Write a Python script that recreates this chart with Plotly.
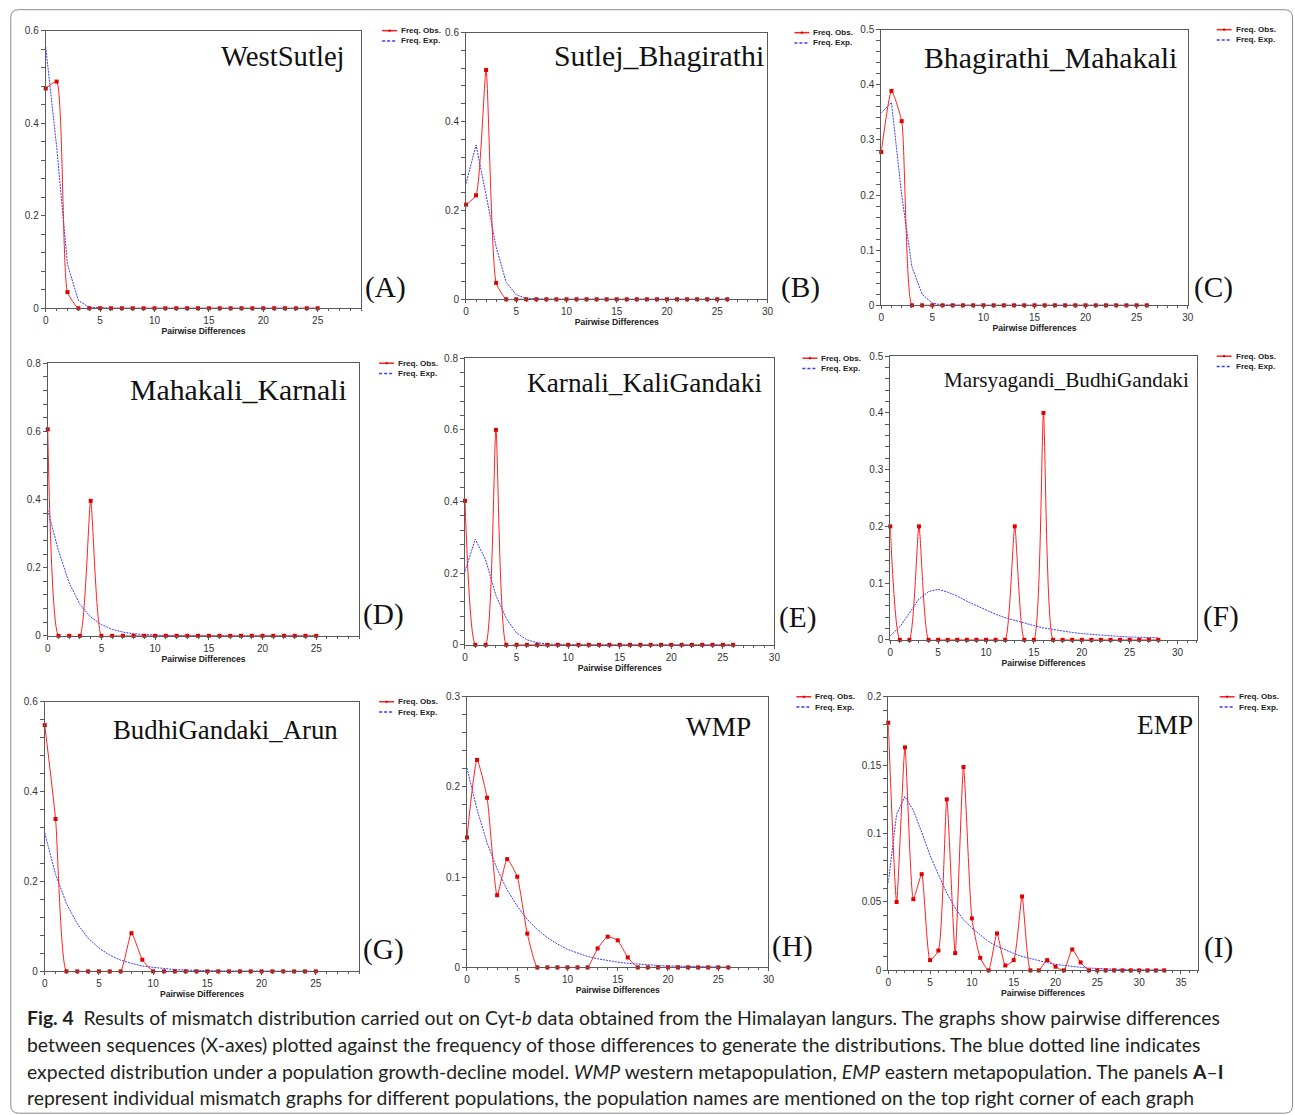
import plotly.graph_objects as go

W, H = 1295, 1115

# ---------------- data ----------------
# Panel A: WestSutlej
A_x = list(range(26))
A_obs = [0.475, 0.49, 0.035, 0, 0, 0, 0, 0, 0, 0, 0, 0, 0, 0, 0, 0, 0, 0, 0, 0, 0, 0, 0, 0, 0, 0]
A_exp = [0.565, 0.35, 0.095, 0.017, 0.002, 0.0003, 0, 0, 0, 0, 0, 0, 0, 0, 0, 0, 0, 0, 0, 0, 0, 0, 0, 0, 0, 0]

# Panel B: Sutlej_Bhagirathi
B_x = list(range(27))
B_obs = [0.213, 0.234, 0.516, 0.037, 0, 0, 0, 0, 0, 0, 0, 0, 0, 0, 0, 0, 0, 0, 0, 0, 0, 0, 0, 0, 0, 0, 0]
B_exp = [0.26, 0.347, 0.235, 0.118, 0.038, 0.01, 0.002, 0.0003, 0, 0, 0, 0, 0, 0, 0, 0, 0, 0, 0, 0, 0, 0, 0, 0, 0, 0, 0]

# Panel C: Bhagirathi_Mahakali
C_x = list(range(27))
C_obs = [0.278, 0.389, 0.334, 0, 0, 0, 0, 0, 0, 0, 0, 0, 0, 0, 0, 0, 0, 0, 0, 0, 0, 0, 0, 0, 0, 0, 0]
C_exp = [0.349, 0.368, 0.2, 0.07, 0.02, 0.004, 0.0005, 0, 0, 0, 0, 0, 0, 0, 0, 0, 0, 0, 0, 0, 0, 0, 0, 0, 0, 0, 0]

# Panel D: Mahakali_Karnali
D_x = list(range(26))
D_obs = [0.606, 0, 0, 0, 0.396, 0, 0, 0, 0, 0, 0, 0, 0, 0, 0, 0, 0, 0, 0, 0, 0, 0, 0, 0, 0, 0]
D_exp = [0.369, 0.25, 0.155, 0.092, 0.055, 0.033, 0.019, 0.011, 0.006, 0.0035, 0.002, 0.001, 0.0006,
         0.0003, 0.0002, 0.0001, 0, 0, 0, 0, 0, 0, 0, 0, 0, 0]

# Panel E: Karnali_KaliGandaki
E_x = list(range(27))
E_obs = [0.402, 0, 0, 0.6, 0, 0, 0, 0, 0, 0, 0, 0, 0, 0, 0, 0, 0, 0, 0, 0, 0, 0, 0, 0, 0, 0, 0]
E_exp = [0.205, 0.295, 0.237, 0.138, 0.074, 0.033, 0.014, 0.006, 0.002, 0.001, 0.0004, 0.0001, 0,
         0, 0, 0, 0, 0, 0, 0, 0, 0, 0, 0, 0, 0, 0]

# Panel F: Marsyagandi_BudhiGandaki
F_x = list(range(29))
F_obs = [0.2, 0, 0, 0.2, 0, 0, 0, 0, 0, 0, 0, 0, 0, 0.2, 0, 0, 0.4, 0, 0, 0, 0, 0, 0, 0, 0, 0, 0, 0, 0]
F_exp = [0.007, 0.023, 0.047, 0.072, 0.085, 0.089, 0.084, 0.077, 0.068, 0.06, 0.052, 0.045, 0.039,
         0.034, 0.029, 0.025, 0.021, 0.018, 0.015, 0.013, 0.011, 0.0095, 0.008, 0.007, 0.006, 0.005,
         0.0045, 0.004, 0.0035]

# Panel G: BudhiGandaki_Arun
G_x = list(range(26))
G_obs = [0.548, 0.339, 0, 0, 0, 0, 0, 0, 0.085, 0.026, 0, 0, 0, 0, 0, 0, 0, 0, 0, 0, 0, 0, 0, 0, 0, 0]
G_exp = [0.308, 0.216, 0.151, 0.106, 0.074, 0.052, 0.036, 0.025, 0.018, 0.012, 0.009, 0.006, 0.004,
         0.003, 0.002, 0.0015, 0.001, 0.0007, 0.0005, 0.0003, 0.0002, 0.0001, 0, 0, 0, 0]

# Panel H: WMP
H_x = list(range(27))
H_obs = [0.144, 0.23, 0.188, 0.08, 0.12, 0.1005, 0.0375, 0, 0, 0, 0, 0, 0, 0.021, 0.034, 0.03, 0.011,
         0, 0, 0, 0, 0, 0, 0, 0, 0, 0]
H_exp = [0.221, 0.175, 0.138, 0.109, 0.086, 0.068, 0.053, 0.042, 0.033, 0.026, 0.02, 0.016, 0.012,
         0.0095, 0.0075, 0.0058, 0.0045, 0.0035, 0.0027, 0.0021, 0.0016, 0.0012, 0.0009, 0.0007,
         0.0005, 0.0004, 0.0003]

# Panel I: EMP
I_x = list(range(34))
I_obs = [0.181, 0.05, 0.163, 0.052, 0.0703, 0.0075, 0.0145, 0.125, 0.0126, 0.1486, 0.038, 0.0092, 0,
         0.027, 0.0036, 0.0075, 0.054, 0, 0, 0.0075, 0.0027, 0, 0.0153, 0.0058, 0, 0, 0, 0, 0, 0, 0,
         0, 0, 0]
I_exp = [0.064, 0.114, 0.127, 0.117, 0.101, 0.084, 0.07, 0.0565, 0.0456, 0.037, 0.031, 0.0257, 0.021,
         0.0177, 0.0148, 0.0124, 0.0102, 0.0085, 0.0068, 0.0056, 0.0044, 0.0035, 0.0028, 0.0022,
         0.0017, 0.0013, 0.001, 0.0008, 0.0006, 0.0005, 0.0004, 0.0003, 0.0002, 0.0002]

titles = ["WestSutlej", "Sutlej_Bhagirathi", "Bhagirathi_Mahakali", "Mahakali_Karnali",
          "Karnali_KaliGandaki", "Marsyagandi_BudhiGandaki", "BudhiGandaki_Arun", "WMP", "EMP"]
letters = ["(A)", "(B)", "(C)", "(D)", "(E)", "(F)", "(G)", "(H)", "(I)"]
xs = [A_x, B_x, C_x, D_x, E_x, F_x, G_x, H_x, I_x]
obs = [A_obs, B_obs, C_obs, D_obs, E_obs, F_obs, G_obs, H_obs, I_obs]
exps = [A_exp, B_exp, C_exp, D_exp, E_exp, F_exp, G_exp, H_exp, I_exp]
x_max = [29, 30, 30, 29, 30, 32, 29, 30, 37]
y_max = [0.6, 0.6, 0.5, 0.8, 0.8, 0.5, 0.6, 0.3, 0.2]
y_major = [0.2, 0.2, 0.1, 0.2, 0.2, 0.1, 0.2, 0.1, 0.05]
y_minor = [0.04, 0.04, 0.02, 0.04, 0.04, 0.02, 0.04, 0.02, 0.01]

# ---------------- layout (pixel geometry, target picture coordinates) ----------------
rects = [(45, 361, 30, 308), (466, 768, 32, 299), (882, 1189, 29, 305),
         (47, 359, 363, 636), (465, 775, 358, 645), (891, 1198, 356, 640),
         (44, 359, 702, 972), (467, 769, 697, 968), (889, 1199, 697, 971)]
legend_dx = [21, 27, 29, 20, 28, 20, 20, 28, 22]
title_pos = [(345, 55, 28.7), (765, 55, 29.8), (1178, 57, 29.8), (347, 389, 29.8),
             (763, 383, 27.3), (1190, 380, 21.2), (338, 730, 26.8), (752, 727, 27.3), (1194, 725, 27.3)]
letter_pos = [(365, 287), (782, 287), (1195, 287), (363, 615), (780, 618), (1204, 617),
              (363, 950), (773, 947), (1205, 948)]

# small correction for how the page is photographed (measured offset/scale)
SX, OX, SY, OY = 0.9948, 2.2, 0.9906, 5.3


def px(x):
    return ((x - OX) / SX) / W


def py(y):
    return 1 - ((y - OY) / SY) / H


RED = "#ff1f1f"
BLUE = "#3a3aff"
AXC = "#5a5a5a"
TXT = "#333333"

fig = go.Figure()
layout = dict(width=W, height=H, margin=dict(l=0, r=0, t=0, b=0),
              paper_bgcolor="white", plot_bgcolor="white", showlegend=False)
annotations = []
shapes = []

for i in range(9):
    n = "" if i == 0 else str(i + 1)
    l, r, t, b = rects[i]
    fig.add_trace(go.Scatter(x=xs[i], y=exps[i], xaxis="x" + n, yaxis="y" + n, mode="lines",
                             line=dict(color=BLUE, width=1, dash="2px,1px"),
                             name="Freq. Exp.", cliponaxis=False, hoverinfo="x+y"))
    fig.add_trace(go.Scatter(x=xs[i], y=obs[i], xaxis="x" + n, yaxis="y" + n, mode="lines+markers",
                             line=dict(color=RED, width=1, shape="spline", smoothing=0.5),
                             marker=dict(symbol="square", size=4, color="#e00000"),
                             name="Freq. Obs.", cliponaxis=False, hoverinfo="x+y"))
    layout["xaxis" + n] = dict(
        domain=[px(l), px(r)], range=[0, x_max[i]], anchor="y" + n,
        showgrid=False, zeroline=False, showline=True, mirror=True, linecolor=AXC, linewidth=1,
        ticks="outside", ticklen=3, tickcolor=AXC, dtick=5, tick0=0,
        minor=dict(dtick=1, ticks="outside", ticklen=2, tickcolor=AXC),
        tickfont=dict(family="Liberation Sans, Arial", size=10, color=TXT),
        title=dict(text="<b>Pairwise Differences</b>", standoff=2,
                   font=dict(family="Liberation Sans, Arial", size=8.6, color="#222")))
    layout["yaxis" + n] = dict(
        domain=[py(b), py(t)], range=[0, y_max[i]], anchor="x" + n,
        showgrid=False, zeroline=False, showline=True, mirror=True, linecolor=AXC, linewidth=1,
        ticks="outside", ticklen=4, tickcolor=AXC, dtick=y_major[i], tick0=0,
        minor=dict(dtick=y_minor[i], ticks="outside", ticklen=4, tickcolor=AXC),
        tickfont=dict(family="Liberation Sans, Arial", size=10, color=TXT))

    # title and panel letter
    tx, ty, ts = title_pos[i]
    annotations.append(dict(text=titles[i], x=px(tx), y=py(ty), xref="paper", yref="paper",
                            xanchor="right", yanchor="middle", showarrow=False, borderpad=0, borderwidth=0,
                            font=dict(family="Liberation Serif, Times New Roman", size=ts, color="#111")))
    lx, ly = letter_pos[i]
    annotations.append(dict(text=letters[i], x=px(lx), y=py(ly), xref="paper", yref="paper",
                            xanchor="left", yanchor="middle", showarrow=False, borderpad=0, borderwidth=0,
                            font=dict(family="Liberation Serif, Times New Roman", size=29.3, color="#111")))
    # legend
    gx = r + legend_dx[i]
    for k, (lab, col, dash) in enumerate([("Freq. Obs.", RED, "solid"), ("Freq. Exp.", BLUE, "3px,2px")]):
        yy = t + k * 10.3
        shapes.append(dict(type="line", xref="paper", yref="paper", x0=px(gx), x1=px(gx + 15),
                           y0=py(yy), y1=py(yy), line=dict(color=col, width=1.5, dash=dash)))
        if k == 0:
            shapes.append(dict(type="rect", xref="paper", yref="paper", x0=px(gx + 6.5), x1=px(gx + 8.5),
                               y0=py(yy + 1), y1=py(yy - 1), line=dict(width=0), fillcolor="#c00000"))
        annotations.append(dict(text="<b>" + lab + "</b>", x=px(gx + 19), y=py(yy), xref="paper",
                                yref="paper", xanchor="left", yanchor="middle", showarrow=False,
                                borderpad=0, borderwidth=0,
                                font=dict(family="Liberation Sans, Arial", size=8.1, color="#222")))

# caption
caption = [
    "<b>Fig. 4</b>\u2002Results of mismatch distribution carried out on Cyt-<i>b</i> data obtained from the Himalayan langurs. The graphs show pairwise differences",
    "between sequences (X-axes) plotted against the frequency of those differences to generate the distributions. The blue dotted line indicates",
    "expected distribution under a population growth-decline model. <i>WMP</i> western metapopulation, <i>EMP</i> eastern metapopulation. The panels <b>A</b>\u2013<b>I</b>",
    "represent individual mismatch graphs for different populations, the population names are mentioned on the top right corner of each graph",
]
cap_y = [1018, 1045, 1072, 1098]
for line, yy in zip(caption, cap_y):
    annotations.append(dict(text=line, x=px(26), y=py(yy), xref="paper", yref="paper",
                            xanchor="left", yanchor="middle", showarrow=False, borderpad=0, borderwidth=0,
                            font=dict(family="Lato, Open Sans, sans-serif", size=19.4, color="#231f20")))

# outer rounded border
def P(x, y):
    return f"{px(x):.5f},{py(y):.5f}"

x0, y0, x1, y1, rr = 10, 9, 1294, 1114, 8
path = (f"M {P(x0, y0 + rr)} Q {P(x0, y0)} {P(x0 + rr, y0)} L {P(x1 - rr, y0)} Q {P(x1, y0)} {P(x1, y0 + rr)} "
        f"L {P(x1, y1 - rr)} Q {P(x1, y1)} {P(x1 - rr, y1)} L {P(x0 + rr, y1)} Q {P(x0, y1)} {P(x0, y1 - rr)} Z")
shapes.append(dict(type="path", xref="paper", yref="paper", path=path, line=dict(color="#8a8a8a", width=1)))

layout["annotations"] = annotations
layout["shapes"] = shapes
fig.update_layout(**layout)
post = ("document.documentElement.style.margin='0';document.documentElement.style.overflow='hidden';"
        "document.body.style.margin='0';document.body.style.padding='0';document.body.style.overflow='hidden';"
        "var gd=document.getElementById('{plot_id}');gd.style.position='fixed';gd.style.left='0px';gd.style.top='0px';")
fig.write_html("out.html", config={"displayModeBar": False}, post_script=post)
